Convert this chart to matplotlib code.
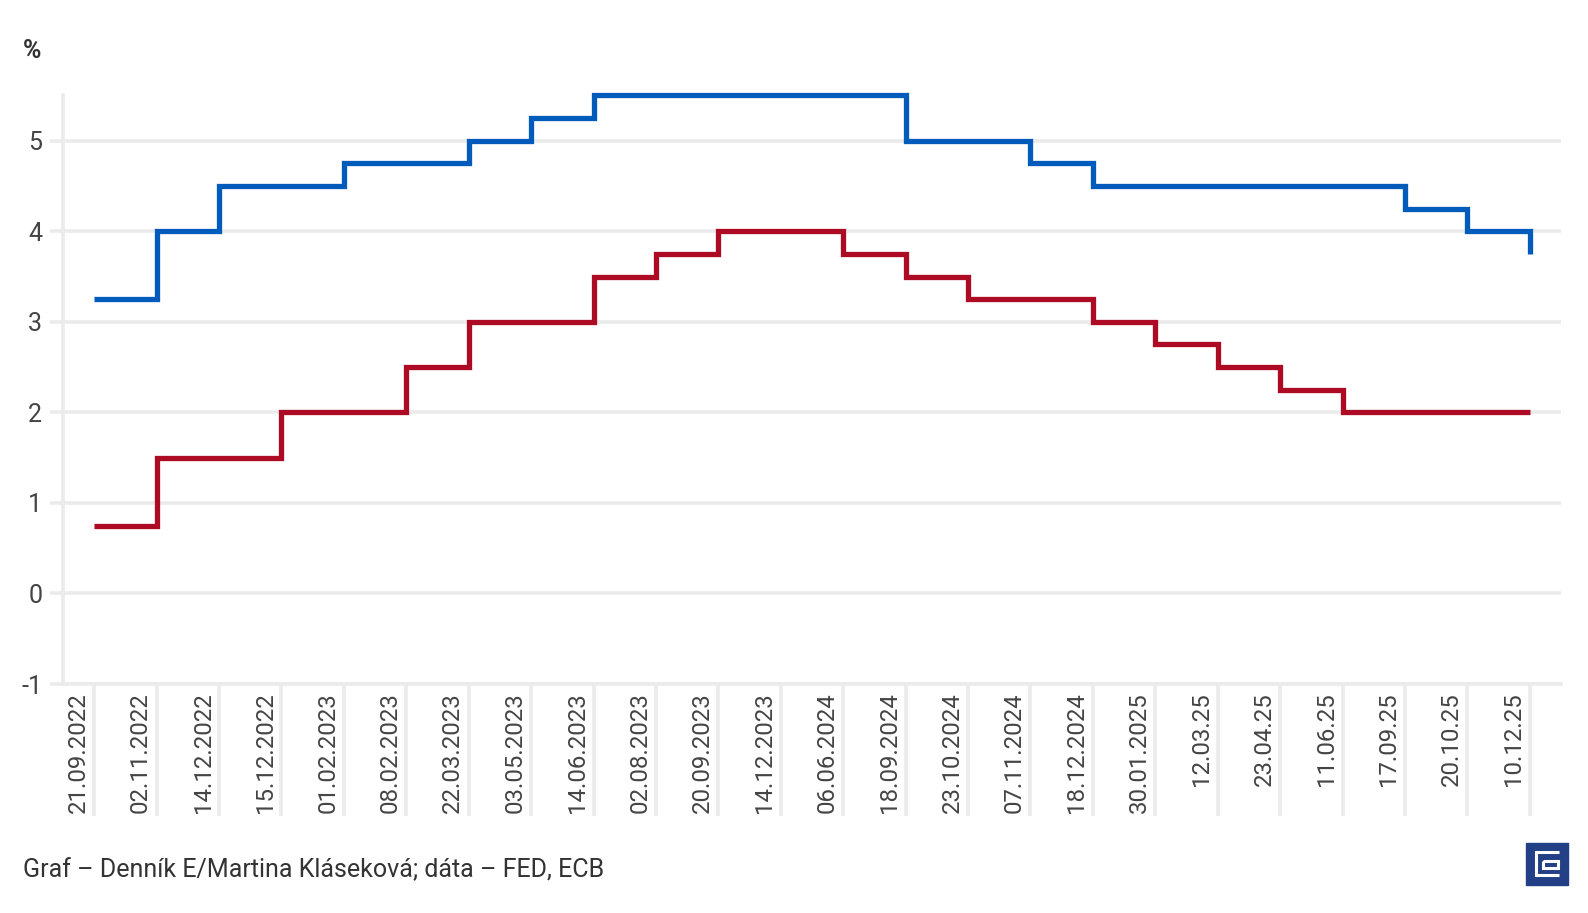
import matplotlib
matplotlib.use('Agg')
import matplotlib.pyplot as plt
import matplotlib.transforms as mtransforms
from matplotlib.patches import Rectangle
from matplotlib.lines import Line2D

plt.rcParams['font.family'] = ['Roboto', 'DejaVu Sans']

# meeting dates (category axis)
dates = ['21.09.2022', '02.11.2022', '14.12.2022', '15.12.2022', '01.02.2023',
         '08.02.2023', '22.03.2023', '03.05.2023', '14.06.2023', '02.08.2023',
         '20.09.2023', '14.12.2023', '06.06.2024', '18.09.2024', '23.10.2024',
         '07.11.2024', '18.12.2024', '30.01.2025', '12.03.25', '23.04.25',
         '11.06.25', '17.09.25', '20.10.25', '10.12.25']

# FED (upper bound) and ECB (deposit rate), %
fed = [3.25, 4.0, 4.5, 4.5, 4.75, 4.75, 5.0, 5.25, 5.5, 5.5, 5.5, 5.5, 5.5,
       5.0, 5.0, 4.75, 4.5, 4.5, 4.5, 4.5, 4.5, 4.25, 4.0, 3.75]
ecb = [0.75, 1.5, 1.5, 2.0, 2.0, 2.5, 3.0, 3.0, 3.5, 3.75, 4.0, 4.0, 3.75,
       3.5, 3.25, 3.25, 3.0, 2.75, 2.5, 2.25, 2.0, 2.0, 2.0, 2.0]

yticks = [-1, 0, 1, 2, 3, 4, 5]

grid_col = '#ebebeb'
text_col = '#444444'
blue = '#005bbb'
red = '#ad0a24'

W, H = 1588, 913
fig = plt.figure(figsize=(W / 100, H / 100), dpi=100)
ax = fig.add_axes([63 / W, 1 - 684 / H, (1561 - 63) / W, (684 - 95.5) / H])

x = list(range(len(dates)))
ax.plot(x, fed, drawstyle='steps-post', color=blue, lw=3.8,
        solid_joinstyle='miter', solid_capstyle='butt', clip_on=False, zorder=3)
ax.plot(x, ecb, drawstyle='steps-post', color=red, lw=3.8,
        solid_joinstyle='miter', solid_capstyle='butt', clip_on=False, zorder=3)

ax.set_xlim(-0.5, len(dates) - 0.5)
ax.set_ylim(-1, 5.5)

# y axis
ax.set_yticks(yticks)
ax.set_yticklabels([str(v) for v in yticks])
ax.yaxis.grid(True, color=grid_col, lw=2.6)
ax.tick_params(axis='y', length=9.4, width=2.6, color=grid_col, pad=5.5,
               labelsize=18, labelcolor=text_col)

# x axis: labels + separators
ax.set_xticks(x)
ax.set_xticklabels(dates, rotation=90)
ax.tick_params(axis='x', which='major', length=0, pad=5.8,
               labelsize=17.3, labelcolor=text_col)
ax.set_xticks(x, minor=True)
ax.xaxis.remove_overlapping_locs = False
ax.tick_params(axis='x', which='minor', length=95, width=2.6, color=grid_col)
shift = mtransforms.ScaledTranslation(-16 / 100, 0, fig.dpi_scale_trans)
for lab in ax.get_xticklabels():
    lab.set_transform(lab.get_transform() + shift)

for s in ['top', 'right']:
    ax.spines[s].set_visible(False)
ax.spines['left'].set_color(grid_col)
ax.spines['left'].set_linewidth(2.6)
ax.spines['bottom'].set_color(grid_col)
ax.spines['bottom'].set_linewidth(2.6)
ax.set_axisbelow(True)

# unit label
fig.text(23 / W, 1 - 51 / H, '%', fontsize=18, fontweight='bold',
         color='#333333', va='center', ha='left')

# source
fig.text(23 / W, 1 - 877 / H,
         'Graf – Denník E/Martina Kláseková; dáta – FED, ECB',
         fontsize=18, color='#333333', va='baseline', ha='left')

# logo
fig.patches.append(Rectangle((1526 / W, 1 - 885 / H), 42 / W, 42 / H,
                             transform=fig.transFigure, color='#233f85'))
def fl(xs, ys):
    fig.lines.append(Line2D([v / W for v in xs], [1 - v / H for v in ys],
                            transform=fig.transFigure, color='white', lw=2.2,
                            solid_joinstyle='miter', solid_capstyle='butt'))
fl([1559, 1536, 1536, 1559], [852, 852, 875, 875])
fl([1543, 1558, 1558, 1543, 1543], [861, 861, 867.5, 867.5, 861])

fig.savefig('out.png', dpi=100)
